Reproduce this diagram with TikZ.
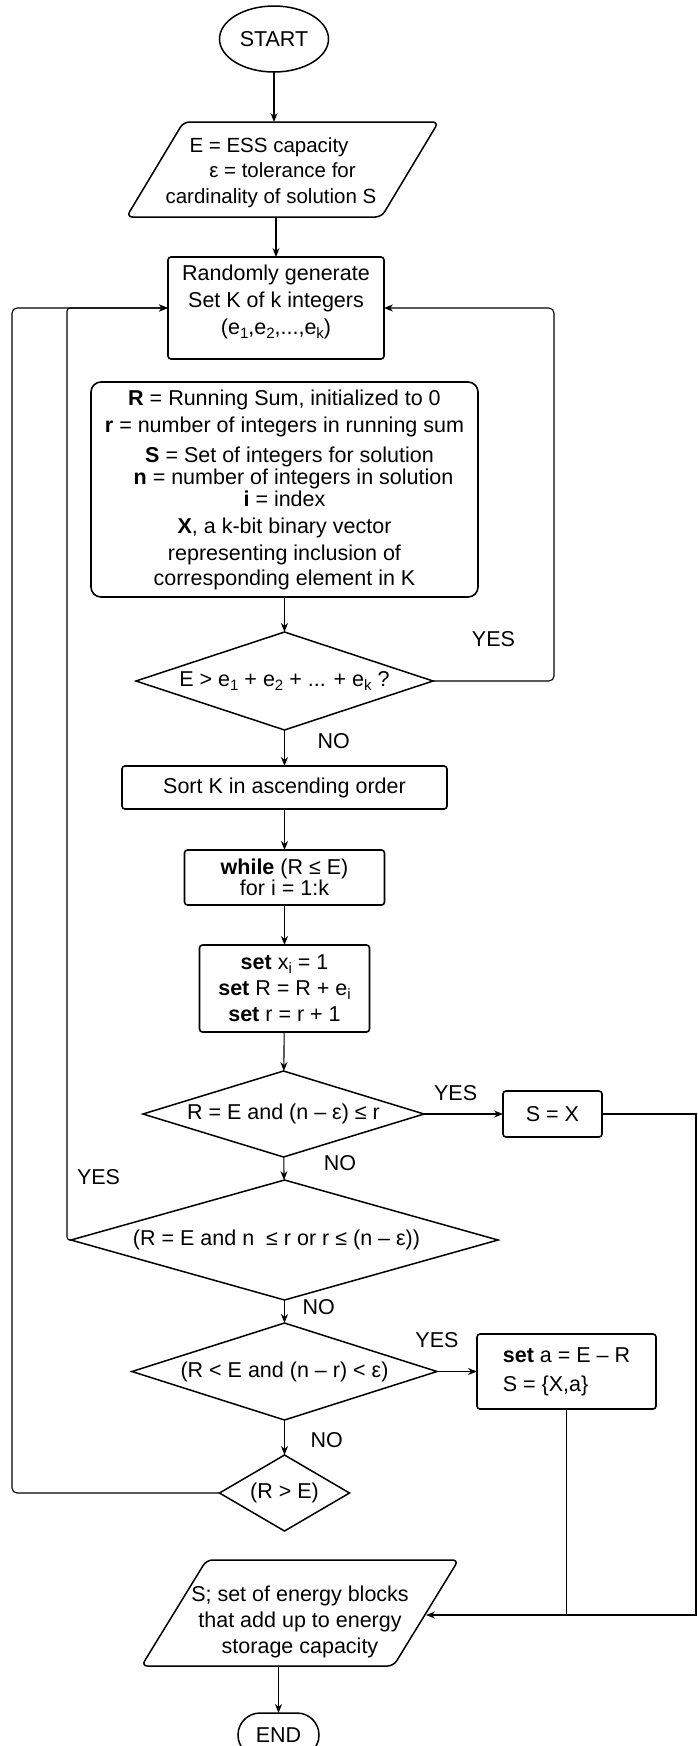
\documentclass[tikz,border=0pt]{standalone}
\usepackage{fontspec}
\setmainfont{Liberation Sans}
\usetikzlibrary{arrows.meta,positioning,shapes.geometric,shapes.misc}

\newcommand{\subidx}[1]{\raisebox{-4pt}{\fontsize{15}{15}\selectfont #1}}

\begin{document}
\begin{tikzpicture}[x=1pt,y=-1pt,
  font=\fontsize{21.5}{25}\selectfont,
  every node/.append style={outer sep=0pt},
  box/.style={rectangle,draw,line width=1.6pt,rounded corners=3pt,align=center,inner sep=2pt},
  dec/.style={diamond,draw,line width=1.5pt,inner sep=0pt,align=center},
  io/.style={rectangle,align=center,inner sep=0pt},
  ioline/.style={line width=1.5pt,rounded corners=6pt},
  term/.style={draw,line width=1.5pt,inner sep=0pt},
  arr/.style={-{Stealth[length=9pt,width=7pt]},line width=1.1pt},
  lbl/.style={inner sep=0pt}
]
\useasboundingbox (0,0) rectangle (697,1746);

% main column
\node[term,ellipse,minimum width=109pt,minimum height=66pt] (start) at (274,39) {START};
\node[io,minimum width=255pt,minimum height=95pt,below=50pt of start,xshift=8.5pt,font=\fontsize{20.5}{25.5}\selectfont] (inp)
  {\rule{0pt}{21pt}E = ESS capacity\hspace*{27pt}\\ε = tolerance for\\cardinality of solution S\hspace*{23pt}};
\draw[ioline] ([xshift=28.5pt]inp.north west) -- ([xshift=28.5pt]inp.north east)
  -- ([xshift=-28.5pt]inp.south east) -- ([xshift=-28.5pt]inp.south west) -- cycle;
\node[box,minimum width=216pt,minimum height=102pt,below=40pt of inp,xshift=-6.5pt,font=\fontsize{21.5}{27}\selectfont] (rnd)
  {Randomly generate\\Set K of k integers\\(e\subidx{1},e\subidx{2},...,e\subidx{k})\rule[-17pt]{0pt}{1pt}};
\node[box,rounded corners=10pt,minimum width=387pt,minimum height=215pt,below=23pt of rnd,xshift=8.5pt,font=\fontsize{21.5}{22}\selectfont] (vars)
  {\textbf{R} = Running Sum, initialized to 0\\[5pt]
   \textbf{r} = number of integers in running sum\\[8pt]
   \hspace*{10pt}\textbf{S} = Set of integers for solution\\
   \hspace*{18pt}\textbf{n} = number of integers in solution\\
   \textbf{i} = index\hspace*{16pt}\\[5pt]
   \textbf{X}, a k-bit binary vector\\[5pt]
   representing inclusion of\\[3pt]
   corresponding element in K};
\node[dec,minimum width=297pt,minimum height=98pt,aspect=3,below=35pt of vars] (dec1)
  {E > e\subidx{1} + e\subidx{2} + ... + e\subidx{k} ?};
\node[box,minimum width=325pt,minimum height=43pt,below=36pt of dec1] (sort) {Sort K in ascending order};
\node[box,minimum width=200pt,minimum height=55pt,below=41pt of sort,font=\fontsize{21.5}{21}\selectfont] (while)
  {\textbf{while} (R ≤ E)\\for i = 1:k};
\node[box,minimum width=170pt,minimum height=87pt,below=40pt of while,font=\fontsize{21.5}{26}\selectfont] (setx)
  {\textbf{set} x\subidx{i} = 1\\\textbf{set} R = R + e\subidx{i}\\\textbf{set} r = r + 1};
\node[dec,minimum width=281pt,minimum height=86pt,aspect=3.27,below=39pt of setx,xshift=-1pt] (dec2)
  {R = E and (n – ε) ≤ r};
\node[dec,minimum width=427pt,minimum height=120pt,aspect=3.56,below=23pt of dec2,xshift=1pt] (dec3)
  {(R = E and n\ \ ≤ r or r ≤ (n – ε))\hspace*{16pt}};
\node[dec,minimum width=305pt,minimum height=97pt,aspect=3.14,below=23pt of dec3] (dec4)
  {(R < E and (n – r) < ε)};
\node[dec,minimum width=130pt,minimum height=76pt,aspect=1.7,below=35pt of dec4] (dec5) {(R > E)};
\node[io,minimum width=252pt,minimum height=106pt,below=29pt of dec5,xshift=15.5pt,font=\fontsize{21.5}{26}\selectfont] (out)
  {\rule{0pt}{34pt}S; set of energy blocks\\that add up to energy\\storage capacity};
\draw[ioline] ([xshift=32.5pt]out.north west) -- ([xshift=32.5pt]out.north east)
  -- ([xshift=-32.5pt]out.south east) -- ([xshift=-32.5pt]out.south west) -- cycle;
\node[term,rounded rectangle,minimum width=81pt,minimum height=44pt,below=47pt of out,xshift=-21.5pt] (stop) {END};

% side boxes
\node[box,minimum width=99pt,minimum height=46pt,right=79pt of dec2] (sx) {S = X};
\node[box,align=left,minimum width=179pt,minimum height=75pt,right=40pt of dec4,font=\fontsize{21.5}{29}\selectfont] (sa)
  {\textbf{set} a = E – R\\S = \{X,a\}};

\coordinate (rloop) at ([xshift=170pt]rnd.east);
\coordinate (lin) at ([xshift=-101pt]rnd.west);
\coordinate (lout) at ([xshift=-156pt]rnd.west);
\coordinate (redge) at (696,1615);

% connectors
\draw[arr] (start) -- (start |- inp.north);
\draw[arr] (rnd |- inp.south) -- (rnd);
\draw[arr] (vars) -- (dec1);
\draw[arr] (dec1) -- node[lbl,pos=0.3,right=33pt] (no1) {NO} (sort);
\draw[arr,rounded corners=5pt] (dec1.east) -| node[lbl,pos=0.25,above=34pt] (yes1) {YES} (rloop) -- (rnd.east);
\draw[arr] (sort) -- (while);
\draw[arr] (while) -- (setx);
\draw[arr] (setx) -- (dec2);
\draw[arr] (dec2) -- node[lbl,pos=0.4,above=13pt] (yes2) {YES} (sx);
\draw[arr] (sx.east) -| (redge) -- (redge -| out.east);
\draw[arr] (dec2) -- node[lbl,pos=0.26,right=40pt] (no2) {NO} (dec3);
\draw[arr,rounded corners=3pt] (dec3.west) -| node[lbl,pos=0.534,right=10pt] (yes3) {YES} (lin) -- (rnd.west);
\draw[arr] (dec3) -- node[lbl,pos=0.3,right=18pt] (no3) {NO} (dec4);
\draw[arr] (dec4) -- node[lbl,pos=0,above=24pt] (yes4) {YES} (sa);
\draw[line width=1.1pt] (sa) -- (sa |- redge);
\draw[arr] (dec4) -- node[lbl,pos=0.57,right=26pt] (no4) {NO} (dec5);
\draw[arr,rounded corners=5pt] (dec5.west) -| (lout) -- (rnd.west);
\draw[arr] (stop |- out.south) -- (stop);
\end{tikzpicture}
\end{document}
